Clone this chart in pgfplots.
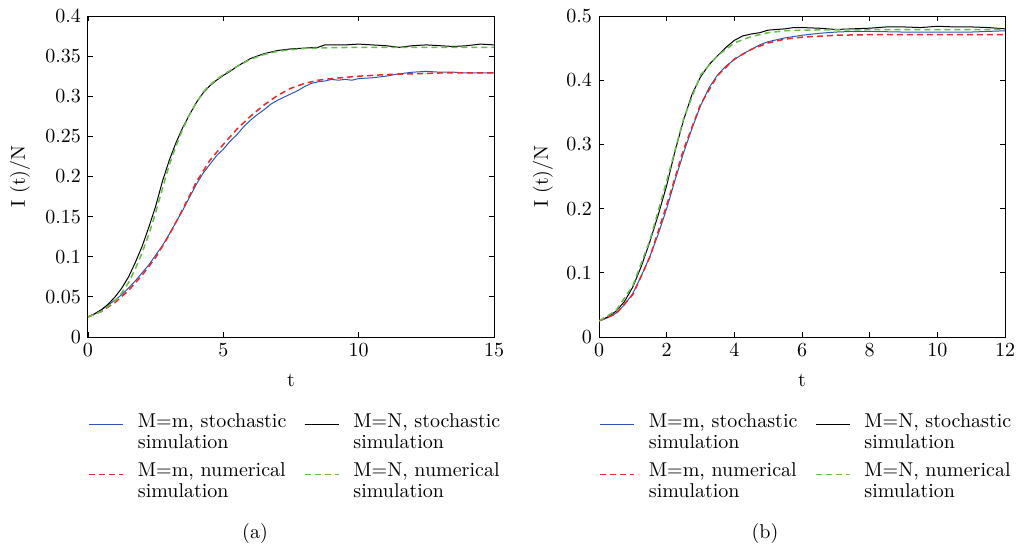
\documentclass[border=0pt]{standalone}
\usepackage{pgfplots}
\pgfplotsset{compat=1.18}
\definecolor{cblue}{RGB}{45,85,185}
\definecolor{cred}{RGB}{235,40,45}
\definecolor{cgreen}{RGB}{105,190,75}
\newcommand{\lent}[2]{\parbox[t]{78pt}{\raggedright #1\\#2}}
\pgfplotsset{
 myax/.style={
  scale only axis, width=203pt, height=160.5pt, anchor=south west,
  tick align=inside, major tick length=2.5pt, tick style={black, line width=0.4pt},
  axis line style={line width=0.5pt},
  xlabel={t}, ylabel={I (t)/N},
  tick label style={font=\fontsize{10}{12}\selectfont},
  label style={font=\fontsize{10}{12}\selectfont},
  xlabel style={at={(axis description cs:0.5,-0.134)}, anchor=center},
  scaled y ticks=false,
  yticklabel style={/pgf/number format/fixed,/pgf/number format/precision=2},
  legend columns=2,
  legend cell align=left,
  legend style={draw=none, fill=none, at={(0,-0.236)}, anchor=north west,
    font=\fontsize{10}{10.7}\selectfont,
    nodes={text depth=, inner sep=0pt},
    row sep=7pt,
    /tikz/every even column/.append style={column sep=5pt}, inner sep=0pt},
  legend image code/.code={\draw[#1] (0pt,3pt) -- (17pt,3pt); \path (24pt,3pt);},
 },
 stoch/.style={line width=0.5pt},
 numer/.style={line width=0.75pt, dash pattern=on 3pt off 2pt},
}
\begin{document}
\begin{tikzpicture}
\useasboundingbox (0,0) rectangle (509.5pt,274pt);
\begin{axis}[myax, at={(44pt,105.5pt)}, xmin=0, xmax=15, ymin=0, ymax=0.4,
  xtick={0,5,10,15}, ytick={0,0.05,0.1,0.15,0.2,0.25,0.3,0.35,0.4},
  ylabel style={at={(axis description cs:-0.168,0.5)}, anchor=center}]
\addplot[stoch, cblue] coordinates {
(0,0.025)(0.25,0.029)(0.5,0.034)(0.75,0.040)(1.0,0.046)(1.25,0.053)(1.5,0.061)(1.75,0.070)
(2.0,0.080)(2.25,0.090)(2.5,0.102)(2.75,0.114)(3.0,0.128)(3.25,0.143)(3.5,0.158)(3.75,0.174)
(4.0,0.190)(4.25,0.204)(4.5,0.215)(4.75,0.226)(5.0,0.234)(5.25,0.244)(5.5,0.252)(5.75,0.262)
(6.0,0.270)(6.25,0.277)(6.5,0.283)(6.75,0.290)(7.0,0.295)(7.25,0.299)(7.5,0.303)(7.75,0.307)
(8.0,0.312)(8.25,0.316)(8.5,0.318)(8.75,0.319)(9,0.321)(9.25,0.320)(9.5,0.321)(9.75,0.320)
(10,0.322)(10.5,0.323)(11,0.325)(11.5,0.328)(12,0.330)(12.5,0.331)(13,0.330)(13.5,0.330)
(14,0.329)(14.5,0.329)(15,0.329)};
\addlegendentry{\lent{M=m, stochastic}{simulation}}
\addplot[stoch, black] coordinates {
(0,0.025)(0.25,0.029)(0.5,0.034)(0.75,0.041)(1.0,0.050)(1.25,0.061)(1.5,0.075)(1.75,0.093)
(2.0,0.113)(2.25,0.137)(2.5,0.163)(2.75,0.194)(3.0,0.220)(3.25,0.242)(3.5,0.261)(3.75,0.277)
(4.0,0.292)(4.25,0.304)(4.5,0.313)(4.75,0.320)(5.0,0.326)(5.25,0.331)(5.5,0.337)(5.75,0.342)
(6.0,0.347)(6.5,0.353)(7.0,0.357)(7.5,0.359)(8.0,0.360)(8.5,0.361)(8.75,0.364)(9,0.364)
(9.5,0.364)(10,0.365)(10.5,0.364)(11,0.363)(11.5,0.361)(12,0.363)(12.5,0.364)(13,0.363)
(13.5,0.362)(14,0.363)(14.5,0.365)(15,0.364)};
\addlegendentry{\lent{M=N, stochastic}{simulation}}
\addplot[numer, cred] coordinates {
(0,0.025)(0.5,0.032)(1.0,0.043)(1.5,0.058)(2.0,0.077)(2.5,0.099)(3.0,0.127)(3.5,0.159)
(4.0,0.193)(4.5,0.220)(5.0,0.240)(5.5,0.259)(6.0,0.275)(6.5,0.289)(7.0,0.301)(7.5,0.310)
(8.0,0.316)(8.5,0.320)(9,0.322)(10,0.325)(11,0.327)(12,0.328)(13,0.329)(15,0.329)};
\addlegendentry{\lent{M=m, numerical}{simulation}}
\addplot[numer, cgreen] coordinates {
(0,0.025)(0.5,0.032)(1.0,0.045)(1.25,0.055)(1.5,0.068)(1.75,0.085)(2.0,0.105)(2.25,0.128)
(2.5,0.155)(2.75,0.185)(3.0,0.214)(3.25,0.238)(3.5,0.259)(3.75,0.277)(4.0,0.292)(4.25,0.305)
(4.5,0.314)(4.75,0.321)(5.0,0.327)(5.5,0.337)(6,0.346)(6.5,0.352)(7,0.356)(7.5,0.358)
(8,0.3595)(9,0.3605)(10,0.361)(15,0.361)};
\addlegendentry{\lent{M=N, numerical}{simulation}}
\end{axis}
\begin{axis}[myax, at={(299.5pt,105.5pt)}, xmin=0, xmax=12, ymin=0, ymax=0.5,
  xtick={0,2,4,6,8,10,12}, ytick={0,0.1,0.2,0.3,0.4,0.5},
  ylabel style={at={(axis description cs:-0.138,0.5)}, anchor=center}]
\addplot[stoch, cblue] coordinates {
(0,0.025)(0.25,0.030)(0.5,0.037)(0.75,0.050)(1.0,0.068)(1.25,0.095)(1.5,0.125)(1.75,0.160)
(2.0,0.200)(2.25,0.245)(2.5,0.287)(2.75,0.325)(3.0,0.360)(3.25,0.388)(3.5,0.408)(3.75,0.422)
(4.0,0.432)(4.25,0.441)(4.5,0.448)(4.75,0.455)(5.0,0.460)(5.5,0.466)(6.0,0.470)(6.5,0.473)
(7.0,0.475)(7.5,0.476)(8.0,0.476)(9.0,0.475)(10,0.475)(11,0.475)(11.5,0.476)(12,0.477)};
\addlegendentry{\lent{M=m, stochastic}{simulation}}
\addplot[stoch, black] coordinates {
(0,0.025)(0.25,0.031)(0.5,0.040)(0.75,0.055)(1.0,0.078)(1.25,0.110)(1.5,0.148)(1.75,0.190)
(2.0,0.236)(2.25,0.290)(2.5,0.338)(2.75,0.378)(3.0,0.405)(3.25,0.424)(3.5,0.438)(3.75,0.451)
(4.0,0.462)(4.25,0.469)(4.5,0.472)(4.75,0.474)(5.0,0.478)(5.25,0.479)(5.5,0.480)(5.75,0.482)
(6.0,0.482)(6.5,0.481)(7.0,0.479)(7.5,0.480)(8.0,0.481)(8.5,0.483)(9.0,0.483)(9.5,0.482)
(10.0,0.484)(10.5,0.483)(11.0,0.483)(11.5,0.482)(12.0,0.480)};
\addlegendentry{\lent{M=N, stochastic}{simulation}}
\addplot[numer, cred] coordinates {
(0,0.025)(0.5,0.036)(1.0,0.066)(1.5,0.124)(2.0,0.205)(2.5,0.292)(3.0,0.362)(3.5,0.407)
(4.0,0.433)(4.5,0.448)(5.0,0.458)(5.5,0.464)(6,0.467)(7,0.470)(8,0.471)(12,0.471)};
\addlegendentry{\lent{M=m, numerical}{simulation}}
\addplot[numer, cgreen] coordinates {
(0,0.025)(0.5,0.041)(1.0,0.080)(1.5,0.150)(2.0,0.243)(2.5,0.340)(3.0,0.408)(3.5,0.438)
(4.0,0.458)(4.5,0.468)(5.0,0.474)(5.5,0.477)(6,0.478)(7,0.4785)(12,0.479)};
\addlegendentry{\lent{M=N, numerical}{simulation}}
\end{axis}
\node[font=\fontsize{10}{12}\selectfont] at (127.5pt,7.5pt) {(a)};
\node[font=\fontsize{10}{12}\selectfont] at (382.5pt,7.5pt) {(b)};
\end{tikzpicture}
\end{document}
